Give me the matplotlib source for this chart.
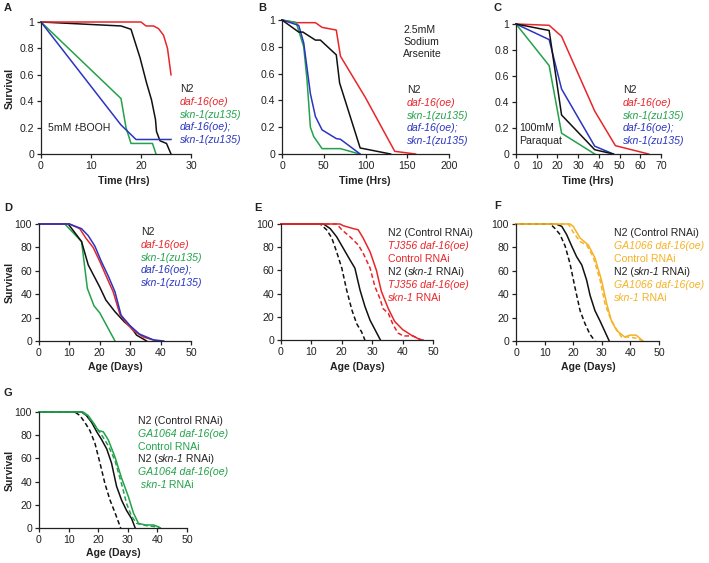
import matplotlib
matplotlib.use("Agg")
import matplotlib.pyplot as plt
from matplotlib.ticker import FuncFormatter

plt.rcParams['font.family'] = ['Liberation Sans', 'DejaVu Sans']

RED = '#e8262a'
GREEN = '#22a24a'
BLUE = '#2a35c0'
YEL = '#f5b224'
BLK = '#111111'
TXT = '#222222'

# ---------------- data ----------------
# Panel A: 5mM t-BOOH
a_n2_x = [0, 16, 18, 19.8, 21.1, 22.1, 22.9, 23.1, 23.8, 25.1, 26]
a_n2_y = [1, 0.97, 0.945, 0.73, 0.54, 0.41, 0.26, 0.17, 0.10, 0.08, 0]
a_oe_x = [0, 20, 21, 22.5, 23.5, 24.5, 25.3, 26]
a_oe_y = [1, 1, 0.97, 0.97, 0.95, 0.9, 0.8, 0.6]
a_skn_x = [0, 16, 17, 18, 22.3, 23]
a_skn_y = [1, 0.42, 0.2, 0.08, 0.08, 0]
a_dbl_x = [0, 16, 19, 26]
a_dbl_y = [1, 0.22, 0.11, 0.11]

# Panel B: 2.5mM sodium arsenite
b_n2_x = [0, 20, 25, 40, 46, 65, 69, 93.6, 130]
b_n2_y = [1, 0.91, 0.91, 0.85, 0.85, 0.74, 0.53, 0.045, 0]
b_oe_x = [0, 18, 40, 48, 65, 70, 100, 135, 160]
b_oe_y = [1, 0.98, 0.98, 0.945, 0.925, 0.73, 0.42, 0.02, 0]
b_skn_x = [0, 17, 26, 30, 34, 38, 48, 70, 92.8]
b_skn_y = [1, 0.98, 0.8, 0.55, 0.2, 0.13, 0.04, 0.04, 0]
b_dbl_x = [0, 20, 26, 34, 40, 48, 65, 70, 93.6]
b_dbl_y = [1, 0.96, 0.83, 0.45, 0.28, 0.18, 0.115, 0.11, 0]

# Panel C: 100mM paraquat
c_n2_x = [0, 16, 22, 38, 47]
c_n2_y = [1, 0.95, 0.30, 0.033, 0]
c_oe_x = [0, 16, 22, 38, 48, 64]
c_oe_y = [1, 0.99, 0.905, 0.33, 0.064, 0]
c_skn_x = [0, 16, 22, 38]
c_skn_y = [1, 0.68, 0.16, 0]
c_dbl_x = [0, 16, 22, 38, 47]
c_dbl_y = [1, 0.88, 0.5, 0.06, 0]

# Panel D: lifespan
d_n2_x = [0, 9.6, 10.5, 14, 16.2, 20, 22, 25, 28.2, 30.2, 32.1, 35.4]
d_n2_y = [100, 100, 97, 85, 65, 46, 35, 25, 16, 12, 5, 0]
d_oe_x = [0, 10, 13.4, 15.4, 17.8, 20, 22, 24.4, 26.6, 28.8, 31, 34.3, 38.7]
d_oe_y = [100, 100, 96, 88, 80, 68, 56, 42, 23, 15, 9, 3.4, 0]
d_skn_x = [0, 8.5, 14, 15.9, 18.1, 20, 25]
d_skn_y = [100, 100, 85, 45, 30, 24, 0]
d_dbl_x = [0, 10, 14, 16.2, 18.4, 20.5, 22.7, 25, 27, 30, 33, 37.6, 41]
d_dbl_y = [100, 100, 96, 90, 81, 68, 56, 42, 22, 13, 6, 1, 0]

# Panel E: TJ356
e_n2c_x = [0, 14, 16.2, 18.3, 20.5, 22.7, 24.3, 26, 27.6, 29.3, 30.9, 32.7]
e_n2c_y = [100, 100, 96, 89, 79, 69, 62, 43, 29, 17, 9, 0]
e_n2s_x = [0, 12.9, 15, 16.7, 18.3, 20, 21.6, 23.3, 24.9, 26.5, 27.6]
e_n2s_y = [100, 100, 95, 88, 76, 62, 43, 26, 14, 7, 0]
e_oec_x = [0, 19.4, 20.5, 23.8, 25.4, 27, 29.3, 31.4, 33, 35.3, 37.4, 40, 43, 45.6, 46.7]
e_oec_y = [100, 100, 98.5, 96, 95, 88, 76, 60, 42, 27, 16, 9, 4, 0.5, 0]
e_oes_x = [0, 18.3, 20, 22.7, 25.4, 27, 29.3, 30.9, 32.5, 33.6, 35.3, 36.9, 38.5, 40.2, 43.4, 46.2]
e_oes_y = [100, 100, 95, 89, 82, 75, 62, 46, 36, 27, 23, 13, 6, 3.5, 3.5, 0]

# Panel F: GA1066
f_n2c_x = [0, 14, 16, 17.7, 19.5, 21.2, 23, 24.7, 25.9, 27.6, 29.4, 31.1, 32.6]
f_n2c_y = [100, 100, 98, 91, 81, 72, 65, 52, 39, 26, 17, 8, 0]
f_n2s_x = [0, 12, 13.7, 15.4, 17.2, 18.9, 20.6, 22.4, 24.1, 25.8, 27.6]
f_n2s_y = [100, 100, 96, 91, 81, 66, 46, 26, 15, 6, 0]
f_oec_x = [0, 18.9, 20, 22.4, 25.3, 27.6, 29.9, 31.7, 33.4, 35.2, 38, 39.8, 42, 44.4]
f_oec_y = [100, 100, 98, 88, 82, 71, 52, 32, 17, 9, 3.4, 5, 5, 0]
f_oes_x = [0, 18.3, 20, 22.4, 24.7, 27, 29.4, 31.1, 32.8, 34.6, 36.9, 39.8, 42.7, 44.4]
f_oes_y = [100, 100, 93, 85, 82, 72, 52, 32, 20.6, 12, 3.4, 3.4, 2, 0]

# Panel G: GA1064
g_n2c_x = [0, 14.4, 16, 17.8, 19.5, 21.2, 22.9, 24.5, 26.2, 27.9, 29.6, 31.3, 32.5]
g_n2c_y = [100, 100, 97, 91, 83, 76, 68, 56, 36, 24, 15, 8, 0]
g_n2s_x = [0, 12.1, 13.8, 15.5, 17.2, 18.9, 20.6, 22.3, 24, 25.7, 27.6]
g_n2s_y = [100, 100, 97, 91, 84, 73, 56, 38, 24, 13, 0]
g_oec_x = [0, 14.9, 16.6, 18.3, 20, 21.7, 23.4, 25.7, 27.9, 30.2, 31.9, 33.6, 35.9, 38.7, 40.4, 41]
g_oec_y = [100, 100, 97, 91, 84, 83, 76, 61, 43, 27, 13, 4, 2.6, 2.6, 1, 0]
g_oes_x = [0, 14, 15, 16.6, 18.9, 21.2, 23.4, 25.7, 27.9, 29.6, 31.3, 33, 36.4, 39.8, 41]
g_oes_y = [100, 100, 99, 96, 88.5, 80, 71, 58, 38, 21, 10, 4, 2, 1, 0]

# ---------------- figure ----------------
W, H = 709, 563
fig = plt.figure(figsize=(W / 100, H / 100), dpi=100)
renderer = fig.canvas.get_renderer()
FS = 7.6
LW = 1.1


def make_ax(x0, x1, ytop, ybot, xlim, xticks, ylim, yticks, fmt=None):
    ax = fig.add_axes([x0 / W, 1 - ybot / H, (x1 - x0) / W, (ybot - ytop) / H])
    ax.set_xlim(*xlim)
    ax.set_ylim(*ylim)
    ax.set_xticks(xticks)
    ax.set_yticks(yticks)
    if fmt:
        ax.yaxis.set_major_formatter(FuncFormatter(lambda v, p: '%g' % v))
    for s in ['top', 'right']:
        ax.spines[s].set_visible(False)
    for s in ['left', 'bottom']:
        ax.spines[s].set_linewidth(0.9)
        ax.spines[s].set_color(TXT)
    ax.tick_params(direction='out', length=3, width=0.9, labelsize=FS, pad=2,
                   colors=TXT, labelcolor=TXT)
    return ax


def ftxt(x, y, s, color=TXT, **kw):
    return fig.text(x / W, 1 - y / H, s, color=color, fontsize=kw.pop('fontsize', FS),
                    va='center', ha=kw.pop('ha', 'left'), **kw)


def text_w(s, style):
    t1 = fig.text(0, 0, 'x' + s + 'x', fontsize=FS, fontstyle='normal')
    t2 = fig.text(0, 0, 'xx', fontsize=FS, fontstyle='normal')
    if style == 'italic':
        t1.set_text('x')
        t1.remove()
        t1 = fig.text(0, 0, s, fontsize=FS, fontstyle='italic')
        w = t1.get_window_extent(renderer).width - 0.5
        t1.remove()
        t2.remove()
        return w
    w = t1.get_window_extent(renderer).width - t2.get_window_extent(renderer).width
    t1.remove()
    t2.remove()
    return w


def rich(x, y, pieces, color):
    # pieces: list of (text, italic)
    cx = x
    for s, it in pieces:
        style = 'italic' if it else 'normal'
        ftxt(cx, y, s, color=color, fontstyle=style)
        cx += text_w(s, style)


def plot(ax, x, y, c, ls='-'):
    if ls == '-':
        ax.plot(x, y, color=c, lw=LW, clip_on=False, solid_joinstyle='round')
    else:
        ax.plot(x, y, color=c, lw=LW, ls=(0, (3, 1.8)), clip_on=False)


# Panel A
axA = make_ax(41, 191, 22, 154, (0, 30), [0, 10, 20, 30], (0, 1), [0, 0.2, 0.4, 0.6, 0.8, 1], fmt=True)
plot(axA, a_n2_x, a_n2_y, BLK)
plot(axA, a_oe_x, a_oe_y, RED)
plot(axA, a_skn_x, a_skn_y, GREEN)
plot(axA, a_dbl_x, a_dbl_y, BLUE)

# Panel B
axB = make_ax(282, 449, 20, 154, (0, 200), [0, 50, 100, 150, 200], (0, 1), [0, 0.2, 0.4, 0.6, 0.8, 1], fmt=True)
plot(axB, b_oe_x, b_oe_y, RED)
plot(axB, b_skn_x, b_skn_y, GREEN)
plot(axB, b_dbl_x, b_dbl_y, BLUE)
plot(axB, b_n2_x, b_n2_y, BLK)

# Panel C
axC = make_ax(516, 661, 24, 154, (0, 70), list(range(0, 71, 10)), (0, 1), [0, 0.2, 0.4, 0.6, 0.8, 1], fmt=True)
plot(axC, c_oe_x, c_oe_y, RED)
plot(axC, c_skn_x, c_skn_y, GREEN)
plot(axC, c_dbl_x, c_dbl_y, BLUE)
plot(axC, c_n2_x, c_n2_y, BLK)

# Panel D
axD = make_ax(39, 191, 224, 341, (0, 50), list(range(0, 51, 10)), (0, 100), list(range(0, 101, 20)))
plot(axD, d_skn_x, d_skn_y, GREEN)
plot(axD, d_n2_x, d_n2_y, BLK)
plot(axD, d_oe_x, d_oe_y, RED)
plot(axD, d_dbl_x, d_dbl_y, BLUE)

# Panel E
axE = make_ax(281, 433, 224, 340, (0, 50), list(range(0, 51, 10)), (0, 100), list(range(0, 101, 20)))
plot(axE, e_n2c_x, e_n2c_y, BLK)
plot(axE, e_n2s_x, e_n2s_y, BLK, '--')
plot(axE, e_oec_x, e_oec_y, RED)
plot(axE, e_oes_x, e_oes_y, RED, '--')

# Panel F
axF = make_ax(516, 659, 224, 341, (0, 50), list(range(0, 51, 10)), (0, 100), list(range(0, 101, 20)))
plot(axF, f_n2c_x, f_n2c_y, BLK)
plot(axF, f_n2s_x, f_n2s_y, BLK, '--')
plot(axF, f_oec_x, f_oec_y, YEL)
plot(axF, f_oes_x, f_oes_y, YEL, '--')

# Panel G
axG = make_ax(39, 187, 412, 528, (0, 50), list(range(0, 51, 10)), (0, 100), list(range(0, 101, 20)))
plot(axG, g_n2c_x, g_n2c_y, BLK)
plot(axG, g_n2s_x, g_n2s_y, BLK, '--')
plot(axG, g_oec_x, g_oec_y, GREEN)
plot(axG, g_oes_x, g_oes_y, GREEN, '--')

# axis labels
for xc, yc, s in [(124, 181, 'Time (Hrs)'), (365, 181, 'Time (Hrs)'), (588, 181, 'Time (Hrs)'),
                  (115, 367, 'Age (Days)'), (357, 367, 'Age (Days)'), (588, 367, 'Age (Days)'),
                  (113, 553, 'Age (Days)')]:
    ftxt(xc, yc, s, ha='center', fontweight='bold')
for yc in [88, 282, 470]:
    fig.text(10 / W, 1 - yc / H, 'Survival', rotation=90, fontsize=FS, fontweight='bold',
             va='center', ha='center', color=TXT)

# panel letters
for x, y, s in [(4, 8, 'A'), (258, 8, 'B'), (494, 8, 'C'), (4, 208, 'D'), (254, 208, 'E'),
                (494, 206, 'F'), (4, 393, 'G')]:
    ftxt(x, y, s, fontweight='bold', fontsize=8)

# legends A-D
leg4 = [([('N2', False)], TXT),
        ([('daf-16(oe)', True)], RED),
        ([('skn-1(zu135)', True)], GREEN),
        ([('daf-16(oe);', True)], BLUE),
        ([('skn-1(zu135)', True)], BLUE)]


def legend(x, y0, items, dy=12.8):
    for i, (pieces, c) in enumerate(items):
        rich(x, y0 + i * dy, pieces, c)


legend(180, 89, leg4)
legend(407, 90, leg4)
legend(623, 90, leg4)
legend(141, 232, leg4)

# conditions
rich(48, 128, [('5mM ', False), ('t', True), ('-BOOH', False)], TXT)
ftxt(403, 30, '2.5mM')
ftxt(403, 42, 'Sodium')
ftxt(403, 54, 'Arsenite')
ftxt(519, 128, '100mM')
ftxt(519, 141, 'Paraquat')


def rnai_leg(strain, col, lead=''):
    return [([('N2 (Control RNAi)', False)], TXT),
            ([(strain + ' daf-16(oe)', True)], col),
            ([('Control RNAi', False)], col),
            ([('N2 (', False), ('skn-1', True), (' RNAi)', False)], TXT),
            ([(strain + ' daf-16(oe)', True)], col),
            ([(lead + 'skn-1', True), (' RNAi', False)], col)]


legend(388, 233, rnai_leg('TJ356', RED), dy=13)
legend(614, 233, rnai_leg('GA1066', YEL), dy=13)
legend(138, 421, rnai_leg('GA1064', GREEN, ' '), dy=12.8)

fig.savefig('out.png', dpi=100)
